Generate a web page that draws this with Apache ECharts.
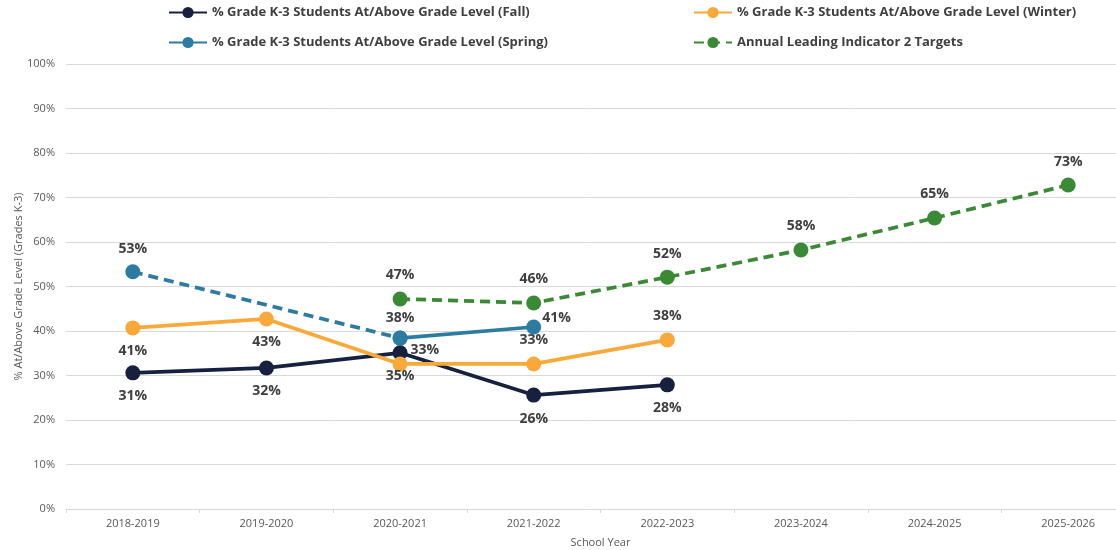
<!DOCTYPE html>
<html>
<head>
<meta charset="utf-8">
<script src="https://cdn.jsdelivr.net/npm/echarts@6/dist/echarts.min.js"></script>
<style>html,body{margin:0;padding:0;background:#fff}#c{width:1116px;height:550px}</style>
</head>
<body>
<div id="c"></div>
<script>
const categories = ['2018-2019','2019-2020','2020-2021','2021-2022','2022-2023','2023-2024','2024-2025','2025-2026'];
const fallValues = [30.6, 31.7, 35.1, 25.6, 27.9, null, null, null];
const winterValues = [40.7, 42.7, 32.6, 32.6, 38.0, null, null, null];
const springValues = [null, null, 38.4, 40.9, null, null, null, null];
const springDashedValues = [53.3, null, 38.4, null, null, null, null, null];
const targetValues = [null, null, 47.2, 46.3, 52.1, 58.2, 65.4, 72.8];
const fallLabels = ['31%','32%','35%','26%','28%'];
const winterLabels = ['41%','43%','33%','33%','38%'];
const springLabels = [null,null,'38%','41%'];
const springDashedLabels = ['53%'];
const targetLabels = [null,null,'47%','46%','52%','58%','65%','73%'];

const C_FALL = '#16213f', C_WINTER = '#f9a93a', C_SPRING = '#2c7ba3', C_TARGET = '#3a8a35';
const labelBase = {show:true, fontFamily:'Open Sans', fontWeight:'bold', fontSize:14, color:'#404040'};

function build(values, labels, lblOpts) {
  return values.map((v, i) => {
    if (v === null) return null;
    const item = {value: v};
    const t = labels[i];
    if (t) {
      const o = (lblOpts && lblOpts[i]) || {};
      item.label = Object.assign({}, labelBase, {position: o.pos || 'top', distance: o.dist != null ? o.dist : 9, offset: o.off || [0,0], formatter: t});
    } else {
      item.label = {show:false};
    }
    return item;
  });
}

const fallLbl = [{pos:'bottom'},{pos:'bottom'},{pos:'bottom'},{pos:'bottom'},{pos:'bottom'}];
const winterLbl = [{pos:'bottom'},{pos:'bottom'},{pos:'right', dist:3, off:[0,-14]},{pos:'top'},{pos:'top'}];
const springLbl = [null,null,{pos:'top', dist:6},{pos:'right', dist:1, off:[0,-9]}];
const springDLbl = [{pos:'top', dist:8}];

const lineSeries = (name, color, data, dashed, extra) => Object.assign({
  name, type:'line', data, symbol:'circle', symbolSize:15,
  itemStyle:{color}, lineStyle:{color, width:3.75, type: dashed ? [10,6] : 'solid'},
  emphasis:{disabled:true}, z: 3
}, extra || {});

const legendText = {fontFamily:'Open Sans', fontWeight:'bold', fontSize:13, color:'#404040'};
const mkLegend = (name, left, top) => ({data:[name], left, top, itemWidth:38, itemHeight:14, itemGap:0, textStyle:legendText, selectedMode:false});

const chart = echarts.init(document.getElementById('c'));
chart.setOption({
  animation:false,
  legend:[
    mkLegend('% Grade K-3 Students At/Above Grade Level (Fall)', 163, 1),
    mkLegend('% Grade K-3 Students At/Above Grade Level (Winter)', 688, 1),
    mkLegend('% Grade K-3 Students At/Above Grade Level (Spring)', 163, 31),
    mkLegend('Annual Leading Indicator 2 Targets', 688, 31)
  ],
  grid:{left:66, right:-19, top:64, bottom:41, containLabel:false, outerBoundsMode:'none'},
  xAxis:{
    type:'category', data:categories, boundaryGap:true,
    name:'School Year', nameLocation:'middle', nameGap:28,
    nameTextStyle:{fontFamily:'Open Sans', fontSize:11, color:'#595959'},
    axisLine:{lineStyle:{color:'#d9d9d9', width:1}},
    axisTick:{show:true, length:4, lineStyle:{color:'#d9d9d9'}},
    axisLabel:{fontFamily:'Open Sans', fontSize:11, color:'#595959', margin:9}
  },
  yAxis:{
    type:'value', min:0, max:100, interval:10,
    name:'% At/Above Grade Level (Grades K-3)', nameLocation:'middle', nameGap:42, nameMoveOverlap:false,
    nameTextStyle:{fontFamily:'Open Sans', fontSize:11, color:'#595959'},
    axisLabel:{formatter:'{value}%', fontFamily:'Open Sans', fontSize:11, color:'#595959', margin:11},
    splitLine:{lineStyle:{color:'#d9d9d9', width:1}},
    axisLine:{show:false}, axisTick:{show:false}
  },
  series:[
    lineSeries('% Grade K-3 Students At/Above Grade Level (Spring) dashed', C_SPRING, build(springDashedValues, springDashedLabels, springDLbl), true, {connectNulls:true, legendHoverLink:false}),
    lineSeries('Annual Leading Indicator 2 Targets', C_TARGET, build(targetValues, targetLabels, null), true),
    lineSeries('% Grade K-3 Students At/Above Grade Level (Fall)', C_FALL, build(fallValues, fallLabels, fallLbl), false),
    lineSeries('% Grade K-3 Students At/Above Grade Level (Winter)', C_WINTER, build(winterValues, winterLabels, winterLbl), false),
    lineSeries('% Grade K-3 Students At/Above Grade Level (Spring)', C_SPRING, build(springValues, springLabels, springLbl), false)
  ]
});
</script>
</body>
</html>
